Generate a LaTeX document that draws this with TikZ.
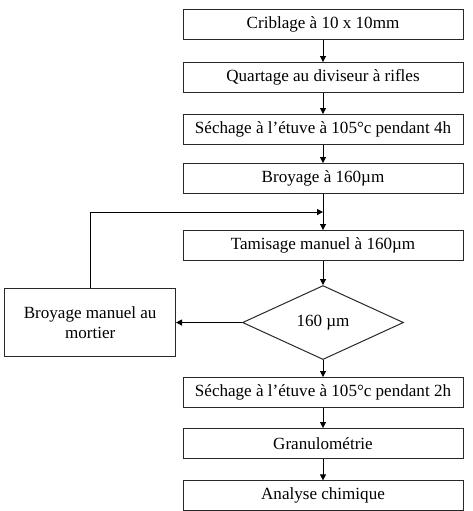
\documentclass[tikz,border=0pt]{standalone}
\usepackage{fontspec}
\setmainfont{Liberation Serif}
\usetikzlibrary{shapes.geometric, arrows.meta, positioning, calc}
\definecolor{colBorder}{RGB}{40,40,40}
\tikzset{
    block/.style={rectangle, draw=colBorder, line width=0.75pt, inner sep=2pt,
        minimum width=210pt, minimum height=22.5pt, align=center,
        font=\fontsize{12.8}{15}\selectfont},
    sidebox/.style={rectangle, draw=colBorder, line width=0.75pt, inner sep=2pt,
        minimum width=128pt, minimum height=51pt, align=center,
        font=\fontsize{12.8}{15}\selectfont},
    decision/.style={diamond, draw=colBorder, line width=0.75pt, inner sep=1pt,
        minimum width=120.75pt, minimum height=55.5pt, align=center,
        font=\fontsize{12.8}{15}\selectfont},
    arrow/.style={-{Triangle[length=4.5pt, width=4.5pt]}, line width=0.75pt}
}

\begin{document}
\begin{tikzpicture}

    \useasboundingbox (0,0) rectangle (354pt,-383.25pt);

    \node[block] (crib) at (242.25pt,-18.4pt) {Criblage à 10 x 10mm};
    \node[block, below=16.5pt of crib] (quart) {Quartage au diviseur à rifles};
    \node[block, below=15.75pt of quart] (sech1) {Séchage à l’étuve à 105°c pendant 4h};
    \node[block, below=13.5pt of sech1] (broy) {Broyage à 160µm};

    \node[block, below=27pt of broy] (tamis) {Tamisage manuel à 160µm};
    \node[decision, below=18pt of tamis] (test) {160 µm};
    \node[sidebox, left=49.5pt of test] (mortier) {Broyage manuel au\\mortier};

    \node[block, below=12.75pt of test] (sech2) {Séchage à l’étuve à 105°c pendant 2h};
    \node[block, below=15pt of sech2] (granulo) {Granulométrie};
    \node[block, below=16pt of granulo] (analyse) {Analyse chimique};

    \coordinate (retour) at ($(broy.south)!0.5!(tamis.north)$);

    \draw[arrow] (crib) -- (quart);
    \draw[arrow] (quart) -- (sech1);
    \draw[arrow] (sech1) -- (broy);
    \draw[arrow] (broy) -- (tamis);
    \draw[arrow] (tamis) -- (test);
    \draw[arrow] (test) -- (mortier);
    \draw[arrow] (mortier.north) |- (retour);
    \draw[arrow] (test) -- (sech2);
    \draw[arrow] (sech2) -- (granulo);
    \draw[arrow] (granulo) -- (analyse);

\end{tikzpicture}
\end{document}
